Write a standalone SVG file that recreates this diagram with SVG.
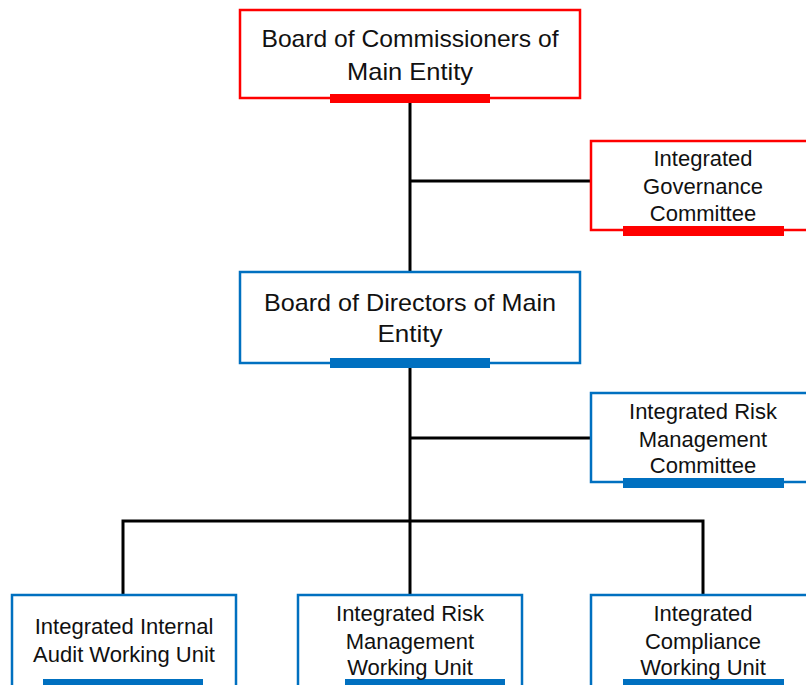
<svg xmlns="http://www.w3.org/2000/svg" width="806" height="685" viewBox="0 0 806 685">
<style>
.red{fill:#fff;stroke:#ff0000;stroke-width:2.5}
.blue{fill:#fff;stroke:#0070c0;stroke-width:2.5}
.rbar{fill:#ff0000}
.bbar{fill:#0070c0}
.big{font-family:"Liberation Sans",Arial,sans-serif;font-size:24px;fill:#111;text-anchor:middle}
.sm{font-family:"Liberation Sans",Arial,sans-serif;font-size:22px;fill:#111;text-anchor:middle}
.ln{stroke:#000;stroke-width:3;fill:none}
</style>
<rect width="806" height="685" fill="#fff"/>
<g id="connectors">
<line class="ln" x1="410" y1="100" x2="410" y2="273"/>
<line class="ln" x1="410" y1="181" x2="592" y2="181"/>
<line class="ln" x1="410" y1="365" x2="410" y2="596"/>
<line class="ln" x1="410" y1="438" x2="592" y2="438"/>
<polyline class="ln" points="123,596 123,521 703,521 703,596"/>
</g>
<g id="board-commissioners">
<rect class="red" x="240" y="10" width="340" height="88"/>
<rect class="rbar" x="330" y="94" width="160" height="9"/>
<text class="big" x="410" y="47" textLength="297" lengthAdjust="spacingAndGlyphs">Board of Commissioners of</text>
<text class="big" x="410" y="80" textLength="126" lengthAdjust="spacingAndGlyphs">Main Entity</text>
</g>
<g id="governance-committee">
<rect class="red" x="591" y="141" width="230" height="89"/>
<rect class="rbar" x="623" y="226" width="161" height="10"/>
<text class="sm" x="703" y="166">Integrated</text>
<text class="sm" x="703" y="194">Governance</text>
<text class="sm" x="703" y="221">Committee</text>
</g>
<g id="board-directors">
<rect class="blue" x="240" y="272" width="340" height="91"/>
<rect class="bbar" x="330" y="358" width="160" height="10"/>
<text class="big" x="410" y="311" textLength="292" lengthAdjust="spacingAndGlyphs">Board of Directors of Main</text>
<text class="big" x="410" y="342" textLength="65" lengthAdjust="spacingAndGlyphs">Entity</text>
</g>
<g id="risk-committee">
<rect class="blue" x="591" y="393" width="230" height="89"/>
<rect class="bbar" x="623" y="478" width="161" height="10"/>
<text class="sm" x="703" y="419">Integrated Risk</text>
<text class="sm" x="703" y="447">Management</text>
<text class="sm" x="703" y="473">Committee</text>
</g>
<g id="audit-unit">
<rect class="blue" x="12" y="595" width="224" height="100"/>
<rect class="bbar" x="43" y="679" width="160" height="10"/>
<text class="sm" x="124" y="634">Integrated Internal</text>
<text class="sm" x="124" y="662">Audit Working Unit</text>
</g>
<g id="risk-unit">
<rect class="blue" x="298" y="595" width="224" height="100"/>
<rect class="bbar" x="345" y="679" width="160" height="10"/>
<text class="sm" x="410" y="621">Integrated Risk</text>
<text class="sm" x="410" y="649">Management</text>
<text class="sm" x="410" y="675">Working Unit</text>
</g>
<g id="compliance-unit">
<rect class="blue" x="591" y="595" width="230" height="100"/>
<rect class="bbar" x="623" y="679" width="161" height="10"/>
<text class="sm" x="703" y="621">Integrated</text>
<text class="sm" x="703" y="649">Compliance</text>
<text class="sm" x="703" y="675">Working Unit</text>
</g>
</svg>
